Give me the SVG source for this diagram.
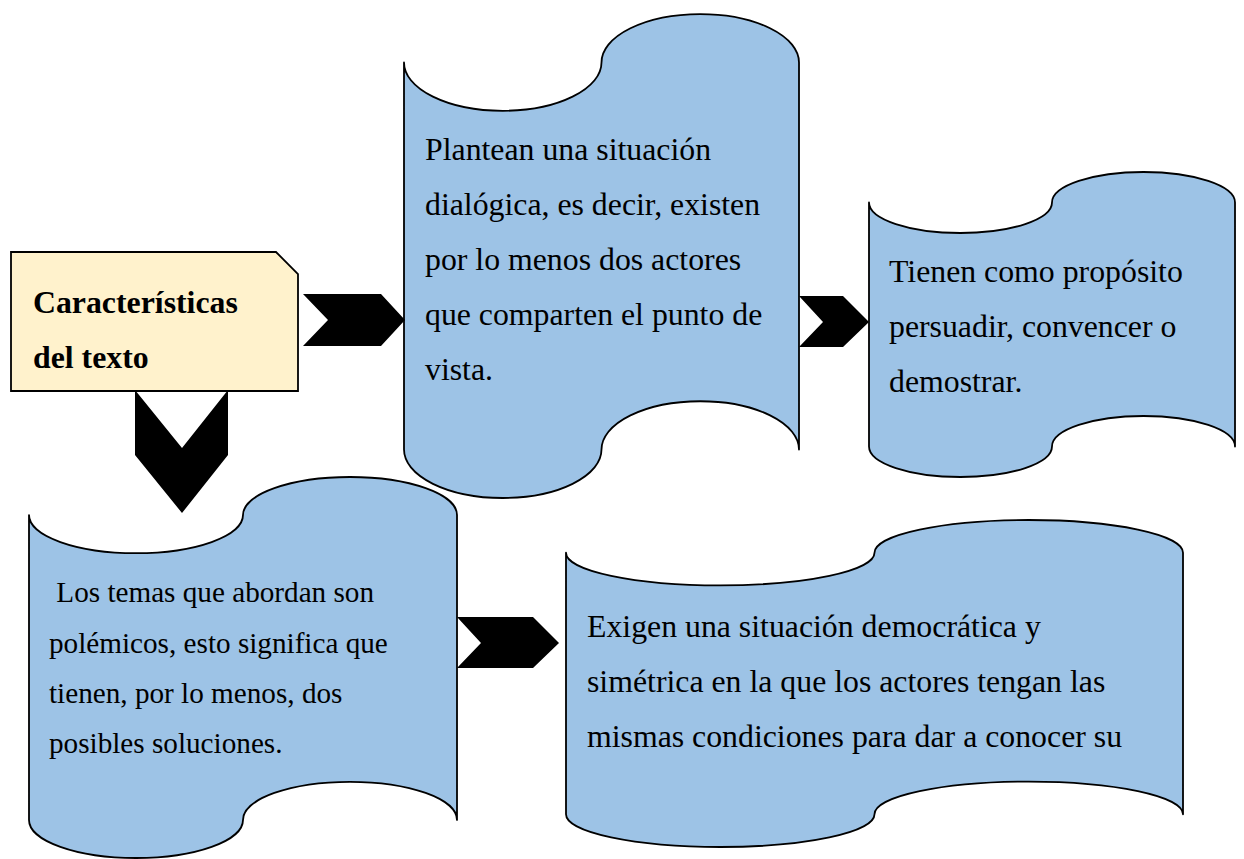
<svg xmlns="http://www.w3.org/2000/svg" width="1244" height="859" viewBox="0 0 1244 859">
<style>
.scroll{fill:#9DC3E6;stroke:#000;stroke-width:1.8;stroke-linejoin:round}
.card{fill:#FFF2CC;stroke:#000;stroke-width:1.8}
.chev{fill:#000;stroke:none}
.t{font-family:"Liberation Serif","Times New Roman",serif;font-size:31.8px;fill:#000}
.t3{font-family:"Liberation Serif","Times New Roman",serif;font-size:29.2px;fill:#000}
.b{font-weight:bold}
</style>
<rect width="1244" height="859" fill="#fff"/>
<g id="node-caracteristicas">
<polygon class="card" points="11,252 276,252 298,274 298,391 11,391"/>
<text class="t b" x="33" y="313">Características</text>
<text class="t b" x="33" y="368">del texto</text>
</g>
<g id="node-dialogica">
<path class="scroll" d="M404,62.4 A98.75,48.4 0 0 0 601.5,62.4 A98.75,48.4 0 0 1 799,62.4 L799,449.6 A98.75,48.4 0 0 0 601.5,449.6 A98.75,48.4 0 0 1 404,449.6 Z"/>
<text class="t" x="425" y="160">Plantean una situación</text>
<text class="t" x="425" y="215">dialógica, es decir, existen</text>
<text class="t" x="425" y="270">por lo menos dos actores</text>
<text class="t" x="425" y="325">que comparten el punto de</text>
<text class="t" x="425" y="380">vista.</text>
</g>
<g id="node-proposito">
<path class="scroll" d="M869,202.5 A91.5,30.5 0 0 0 1052,202.5 A91.5,30.5 0 0 1 1235,202.5 L1235,446.5 A91.5,30.5 0 0 0 1052,446.5 A91.5,30.5 0 0 1 869,446.5 Z"/>
<text class="t" x="889" y="282">Tienen como propósito</text>
<text class="t" x="889" y="337">persuadir, convencer o</text>
<text class="t" x="889" y="392">demostrar.</text>
</g>
<g id="node-temas">
<path class="scroll" d="M29,515.1 A107,38.1 0 0 0 243,515.1 A107,38.1 0 0 1 457,515.1 L457,819.9 A107,38.1 0 0 0 243,819.9 A107,38.1 0 0 1 29,819.9 Z"/>
<text class="t3" x="49" y="602" xml:space="preserve"> Los temas que abordan son</text>
<text class="t3" x="49" y="653">polémicos, esto significa que</text>
<text class="t3" x="49" y="703">tienen, por lo menos, dos</text>
<text class="t3" x="49" y="753">posibles soluciones.</text>
</g>
<g id="node-democratica">
<path class="scroll" d="M566,552.7 A154.25,32.7 0 0 0 874.5,552.7 A154.25,32.7 0 0 1 1183,552.7 L1183,814.3 A154.25,32.7 0 0 0 874.5,814.3 A154.25,32.7 0 0 1 566,814.3 Z"/>
<text class="t" x="587" y="637">Exigen una situación democrática y</text>
<text class="t" x="587" y="692">simétrica en la que los actores tengan las</text>
<text class="t" x="587" y="747">mismas condiciones para dar a conocer su</text>
</g>
<g id="connectors">
<polygon class="chev" points="303,294 381,294 405,320 381,346 303,346 328,320"/>
<polygon class="chev" points="799,296 843,296 869,322 843,347 799,347 823,322"/>
<polygon class="chev" points="457,617 533,617 559,643 533,668 457,668 481,643"/>
<polygon class="chev" points="135,390 182,448 228,390 228,455 182,513 135,455"/>
</g>
</svg>
